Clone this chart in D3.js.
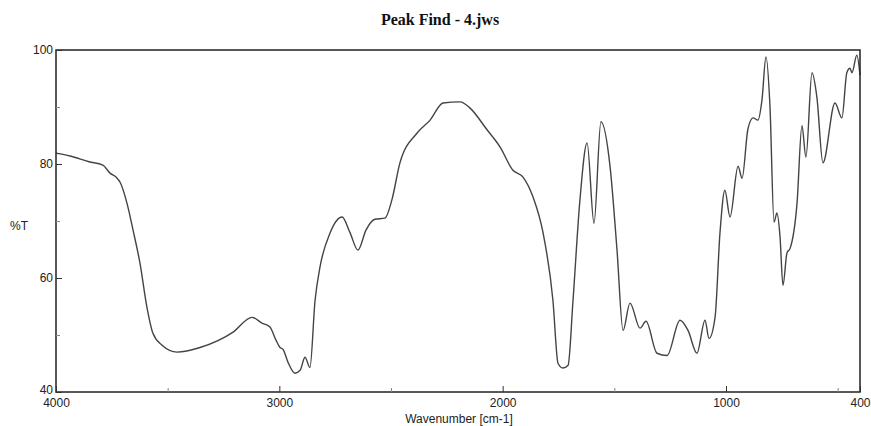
<!DOCTYPE html>
<html>
<head>
<meta charset="utf-8">
<script src="https://cdn.jsdelivr.net/npm/d3@7"></script>
<style>
  html, body { margin: 0; padding: 0; background: #fff; }
  svg { display: block; }
</style>
</head>
<body>
<svg id="chart" width="871" height="426"></svg>
<script>
// IR transmittance spectrum: wavenumber (cm-1) vs %T
const wavenumber = [
  4000, 3937, 3852, 3790, 3758, 3731, 3713, 3682, 3655, 3624,
  3593, 3566, 3525, 3458, 3355, 3207, 3122, 3078, 3042, 3015,
  2997, 2984, 2961, 2930, 2907, 2885, 2863, 2840, 2818, 2773,
  2719, 2684, 2648, 2612, 2572, 2527, 2496, 2460, 2384, 2325,
  2267, 2191, 2146, 2070, 2012, 1954, 1909, 1864, 1819, 1775,
  1752, 1730, 1707, 1685, 1654, 1622, 1591, 1560, 1519, 1488,
  1461, 1430, 1385, 1358, 1309, 1264, 1206, 1170, 1130, 1094,
  1076, 1049, 1027, 1005, 982, 946, 928, 902, 879, 857,
  839, 821, 803, 785, 772, 758, 745, 727, 713, 682,
  660, 642, 615, 593, 566, 512, 481, 459, 445, 436,
  414, 400
];
const transmittance = [
  81.9, 81.4, 80.4, 79.8, 78.4, 77.7, 76.8, 73.1, 68.4, 62.6,
  54.9, 50.3, 48.2, 47.0, 47.8, 50.5, 53.1, 52.1, 51.4, 49.1,
  47.8, 47.5, 45.2, 43.3, 43.8, 46.1, 44.3, 56.1, 61.9, 67.9,
  70.7, 68.0, 64.9, 68.4, 70.3, 70.5, 73.7, 80.2, 85.4, 87.7,
  90.7, 90.9, 89.8, 86.0, 83.0, 78.9, 77.7, 74.2, 67.9, 56.1,
  45.0, 44.2, 44.7, 56.1, 73.7, 83.7, 69.6, 87.4, 79.5, 64.9,
  50.8, 55.6, 51.2, 52.4, 46.8, 46.4, 52.6, 50.8, 46.8, 52.6,
  49.4, 53.1, 67.9, 75.4, 70.7, 79.6, 77.5, 86.1, 88.1, 87.7,
  91.2, 98.8, 90.0, 69.8, 71.4, 67.2, 58.7, 64.4, 65.2, 73.1,
  86.7, 81.2, 96.0, 91.7, 80.2, 90.7, 88.1, 96.0, 96.8, 96.0,
  99.1, 95.6
];
const xMajorTicks = [4000, 3000, 2000, 1000, 400];
const xMinorTicks = [3500, 2500, 1500, 500];
const yMajorTicks = [40, 60, 80, 100];
const yMinorTicks = [50, 70, 90];

const svg = d3.select("#chart");
const plot = { left: 56, right: 860, top: 50, bottom: 392 };

const x = d3.scaleLinear().domain([4000, 400]).range([plot.left, plot.right]);
const y = d3.scaleLinear().domain([40, 100]).range([plot.bottom, plot.top]);

const sansFont = "'Liberation Sans', Arial, sans-serif";

// Title
svg.append("text")
  .attr("x", 440).attr("y", 25)
  .attr("text-anchor", "middle")
  .attr("font-family", "'Liberation Serif', 'Times New Roman', serif")
  .attr("font-weight", "bold")
  .attr("font-size", 16)
  .attr("fill", "#111")
  .text("Peak Find - 4.jws");

// Spectrum trace
const points = wavenumber.map((w, i) => [w, transmittance[i]]);
const line = d3.line()
  .x(d => x(d[0]))
  .y(d => y(d[1]))
  .curve(d3.curveMonotoneX);

svg.append("path")
  .datum(points)
  .attr("d", line)
  .attr("fill", "none")
  .attr("stroke", "#444")
  .attr("stroke-width", 1.4)
  .attr("stroke-linejoin", "round");

// Frame
svg.append("rect")
  .attr("x", plot.left).attr("y", plot.top)
  .attr("width", plot.right - plot.left)
  .attr("height", plot.bottom - plot.top)
  .attr("fill", "none")
  .attr("stroke", "#222")
  .attr("stroke-width", 1.5);

// Bottom axis (ticks pointing into the plot)
const xAxis = svg.append("g")
  .attr("transform", `translate(0,${plot.bottom})`)
  .call(d3.axisBottom(x).tickValues(xMajorTicks).tickSize(-6).tickPadding(6).tickFormat(d3.format("d")));
xAxis.select(".domain").remove();
xAxis.selectAll(".tick line").attr("stroke", "#333");
xAxis.selectAll(".tick text")
  .attr("font-family", sansFont).attr("font-size", 12).attr("fill", "#222");

const xMinor = svg.append("g")
  .attr("transform", `translate(0,${plot.bottom})`)
  .call(d3.axisBottom(x).tickValues(xMinorTicks).tickSize(-4).tickFormat(""));
xMinor.select(".domain").remove();
xMinor.selectAll(".tick line").attr("stroke", "#888");

// Left axis
const yAxis = svg.append("g")
  .attr("transform", `translate(${plot.left},0)`)
  .call(d3.axisLeft(y).tickValues(yMajorTicks).tickSize(-6).tickPadding(3).tickFormat(d3.format("d")));
yAxis.select(".domain").remove();
yAxis.selectAll(".tick line").attr("stroke", "#333");
yAxis.selectAll(".tick text")
  .attr("font-family", sansFont).attr("font-size", 12).attr("fill", "#222");
// lift the lowest label a little so it clears the corner label below it
yAxis.selectAll(".tick").filter(d => d === 40).select("text").attr("dy", "0.15em");

const yMinor = svg.append("g")
  .attr("transform", `translate(${plot.left},0)`)
  .call(d3.axisLeft(y).tickValues(yMinorTicks).tickSize(-4).tickFormat(""));
yMinor.select(".domain").remove();
yMinor.selectAll(".tick line").attr("stroke", "#888");

// Axis titles
svg.append("text")
  .attr("x", 459).attr("y", 423)
  .attr("text-anchor", "middle")
  .attr("font-family", sansFont).attr("font-size", 12).attr("fill", "#222")
  .text("Wavenumber [cm-1]");

svg.append("text")
  .attr("x", 10).attr("y", 230)
  .attr("font-family", sansFont).attr("font-size", 12).attr("fill", "#222")
  .text("%T");
</script>
</body>
</html>
